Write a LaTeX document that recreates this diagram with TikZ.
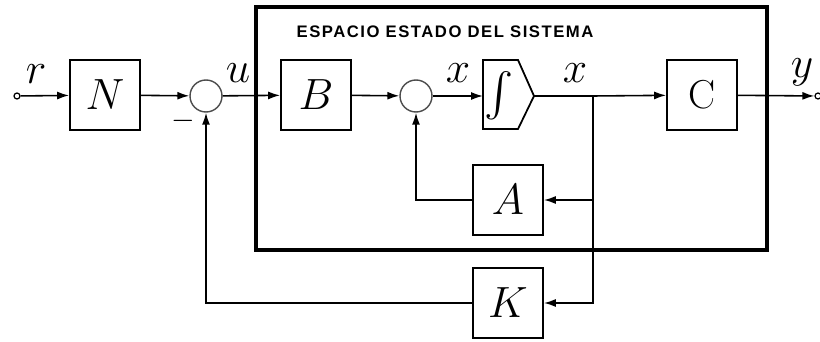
\documentclass[tikz,border=0pt]{standalone}
\usepackage{exscale}
\usepackage{fontspec}
\setsansfont{Liberation Sans}
\usetikzlibrary{arrows.meta}

\begin{document}
\begin{tikzpicture}[x=0.02cm, y=-0.02cm, >={Latex[length=2.4mm,width=1.6mm]},
    blk/.style={draw, line width=1pt, minimum size=1.4cm, inner sep=0pt, font=\fontsize{23}{26}\selectfont},
    sum/.style={draw=black!70, circle, line width=0.8pt, minimum size=0.64cm, inner sep=0pt},
    term/.style={draw, circle, line width=0.7pt, minimum size=0.12cm, inner sep=0pt},
    lbl/.style={inner sep=0pt, font=\fontsize{23}{26}\selectfont},
    sig/.style={line width=0.9pt}]
    \useasboundingbox (0,0) rectangle (820,341);

    %system box
    \draw[line width=2.3pt] (256,7) rectangle (767,250);
    \node[inner sep=0pt, font=\sffamily\bfseries\fontsize{9.5}{11}\selectfont\addfontfeature{LetterSpace=9}] (title) at (445,32) {ESPACIO ESTADO DEL SISTEMA};

    %blocks
    \node[term] (r) at (17,96) {};
    \node[blk] (N) at (105,95) {$N$};
    \node[sum] (s1) at (206,96) {};
    \node[blk] (B) at (316,95) {$B$};
    \node[sum] (s2) at (416,96) {};
    \draw[line width=1pt] (483,60) -- (518,60) -- (534,96) -- (518,129) -- (483,129) -- cycle;
    \node[lbl] (int) at (499,96) {$\int$};
    \coordinate (Iin) at (483,96);
    \coordinate (Iout) at (534,96);
    \coordinate (br) at (593,96);
    \node[blk] (C) at (702,95) {$\mathrm{C}$};
    \node[term] (y) at (818,96) {};
    \node[blk] (A) at (508,200) {$A$};
    \node[blk] (K) at (508,303) {$K$};

    %signals
    \draw[sig,->] (r) -- (N);
    \draw[sig,->] (N) -- (s1);
    \draw[sig,->] (s1) -- (B);
    \draw[sig,->] (B) -- (s2);
    \draw[sig,->] (s2) -- (Iin);
    \draw[sig] (Iout) -- (br);
    \draw[sig,->] (br) -- (C);
    \draw[sig,->] (C) -- (y);
    \draw[sig,->] (br) |- (A);
    \draw[sig,->] (br) |- (K);
    \draw[sig,->] (A) -| (s2);
    \draw[sig,->] (K) -| (s1);

    %labels
    \node[lbl] (lr) at (36,74) {$r$};
    \node[lbl] (lu) at (238,73) {$u$};
    \node[lbl] (lx1) at (458,73) {$x$};
    \node[lbl] (lx2) at (575,73) {$x$};
    \node[lbl] (ly) at (802,72) {$y$};
    \node[inner sep=0pt, font=\fontsize{16}{18}\selectfont] (lm) at (183,121) {$-$};
\end{tikzpicture}
\end{document}
